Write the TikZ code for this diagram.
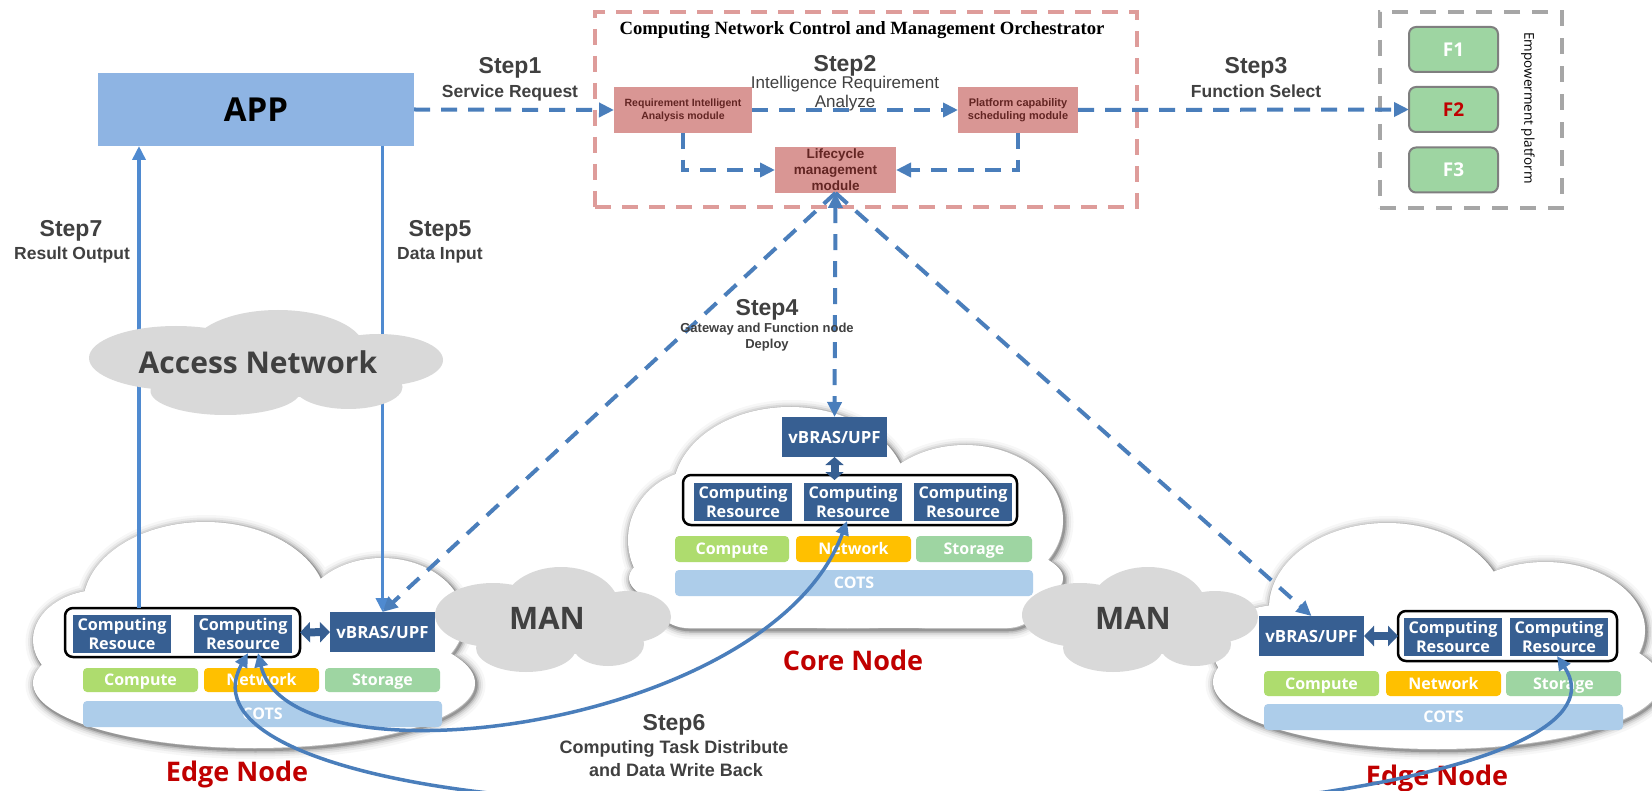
\documentclass[tikz,border=0pt]{standalone}
\usepackage{fontspec}
\setmainfont{Liberation Sans}
\newfontfamily\uifont{Open Sans}
\newfontfamily\titleserif{Liberation Serif}
\usetikzlibrary{arrows.meta,calc}

\newcommand\fsz[2]{\fontsize{#1}{#2}\selectfont}

\definecolor{dblue}{HTML}{375F92}
\definecolor{lineblue}{HTML}{4A7EBB}
\definecolor{solidblue}{HTML}{4F8AD0}
\definecolor{salmon}{HTML}{D99694}
\definecolor{modtext}{HTML}{632523}
\definecolor{orchline}{HTML}{DE9C9A}
\definecolor{empline}{HTML}{A6A6A6}
\definecolor{mint}{HTML}{9ED5A2}
\definecolor{fgray}{HTML}{7F7F7F}
\definecolor{lime}{HTML}{AEDC6E}
\definecolor{amber}{HTML}{FFC000}
\definecolor{cotsblue}{HTML}{ADCDEA}
\definecolor{cloudgray}{HTML}{D9D9D9}
\definecolor{txtgray}{HTML}{404040}
\definecolor{nodered}{HTML}{C00000}
\definecolor{appblue}{HTML}{8EB4E3}

% white cloud with a soft grey shadow; #1 is a union of closed shapes
\newcommand\whitecloud[1]{%
  \foreach \w/\o in {18/0.03,13/0.05,9/0.08,5.5/0.12,2.5/0.2}{%
    \draw[black, opacity=\o, line width=\w pt, shift={(1.5,2)}] #1;}
  \fill[white] #1;}

% flat grey cloud: centre x, centre y, horizontal scale
\newcommand\graycloud[3]{%
  \fill[cloudgray, shift={(#1,#2)}, xscale=#3]
    (-60,-5) ellipse [x radius=58pt, y radius=32pt]
    (8,-13) ellipse [x radius=58pt, y radius=40pt]
    (75,-3) ellipse [x radius=43pt, y radius=26pt]
    (-27,28) ellipse [x radius=50pt, y radius=24pt]
    (55,24) ellipse [x radius=36pt, y radius=22pt]
    (0,5) ellipse [x radius=80pt, y radius=30pt];}

\tikzset{
  dtip/.tip={Triangle[length=15pt,width=14pt]},
  ctip/.tip={Triangle[length=14pt,width=13pt]},
  btip/.tip={Triangle[length=10pt,width=20pt]},
}

\begin{document}
\begin{tikzpicture}[x=1pt,y=-1pt,
  every node/.style={inner sep=0pt, outer sep=0pt},
  modbox/.style={fill=salmon, text=modtext, font=\bfseries, align=center},
  fnbox/.style={draw=fgray, line width=2pt, fill=mint, rounded corners=7pt,
    minimum width=89pt, minimum height=45pt, font=\uifont\bfseries\fsz{19}{22}, text=white},
  resbox/.style={fill=dblue, text=white, font=\uifont\bfseries\fsz{16.2}{18.7},
    align=center, minimum width=98pt, minimum height=38pt},
  upfbox/.style={fill=dblue, text=white, font=\uifont\bfseries\fsz{16.8}{19},
    minimum width=105pt, minimum height=40pt},
  groupbox/.style={draw=black, line width=2.5pt, rounded corners=8pt, fill=white},
  layerbox/.style={rounded corners=4pt, text=white, font=\uifont\bfseries\fsz{16}{19},
    text height=11.5pt, text depth=0pt},
  steph/.style={text=txtgray, font=\bfseries\fsz{23}{27}, text height=16.5pt, text depth=0pt},
  stepsub/.style={text=txtgray, font=\bfseries\fsz{17.5}{21}, text height=12.5pt, text depth=0pt},
  nodelbl/.style={text=nodered, font=\uifont\bfseries\fsz{27}{32}, text height=19pt, text depth=0pt},
  dashline/.style={draw=lineblue, line width=4pt, dash pattern=on 16pt off 11pt},
  solidline/.style={draw=solidblue, line width=3.5pt},
  curveline/.style={draw=lineblue, line width=3.5pt},
  dblarrow/.style={draw=dblue, line width=8pt, {btip}-{btip}},
]
\useasboundingbox (0,0) rectangle (1652,791);
\fill[white] (0,0) rectangle (1652,791);
\clip (0,0) rectangle (1652,791);

% ---------- node clouds ----------
\whitecloud{(254,683) ellipse [x radius=221pt, y radius=65pt]
  (205,605) ellipse [x radius=122pt, y radius=83pt]
  (382,620) ellipse [x radius=82pt, y radius=62pt]
  (100,640) ellipse [x radius=67pt, y radius=50pt]}
\whitecloud{(846,578) ellipse [x radius=217pt, y radius=50pt]
  (790,492) ellipse [x radius=117pt, y radius=85pt]
  (965,520) ellipse [x radius=98pt, y radius=75pt]
  (700,540) ellipse [x radius=72pt, y radius=70pt]
  [rounded corners=38pt] (650,545) rectangle (1045,628)}
\whitecloud{(1437,682) ellipse [x radius=224pt, y radius=67pt]
  (1387,608) ellipse [x radius=118pt, y radius=85pt]
  (1545,630) ellipse [x radius=100pt, y radius=68pt]
  (1280,650) ellipse [x radius=67pt, y radius=45pt]}

% ---------- metro clouds ----------
\graycloud{553}{620}{1}
\graycloud{1140}{620}{1}
\node[text=txtgray, font=\uifont\bfseries\fsz{31}{36}] (manL) at (547,618) {MAN};
\node[text=txtgray, font=\uifont\bfseries\fsz{31}{36}] (manR) at (1133,618) {MAN};

% ---------- left edge node ----------
\node[groupbox, minimum width=235pt, minimum height=49pt] (gL) at (182.5,632.5) {};
\node[resbox] (crL1) at (122,634) {Computing\\Resouce};
\node[resbox] (crL2) at (243,634) {Computing\\Resource};
\node[upfbox] (vL) at (382.5,632) {vBRAS/UPF};
\node[layerbox, fill=lime, minimum width=115pt, minimum height=24pt] (cpL) at (140.5,680) {Compute};
\node[layerbox, fill=amber, minimum width=115pt, minimum height=24pt] (nwL) at (261.5,680) {Network};
\node[layerbox, fill=mint, minimum width=115pt, minimum height=24pt] (stL) at (382.5,680) {Storage};
\node[layerbox, fill=cotsblue, minimum width=359pt, minimum height=26pt] (coL) at (262.5,714) {COTS};
\node[nodelbl] (edgeL) at (237,772) {Edge Node};

% ---------- core node ----------
\node[upfbox] (vC) at (834.5,437) {vBRAS/UPF};
\node[groupbox, minimum width=334pt, minimum height=50pt] (gC) at (850,500) {};
\node[resbox] (crC1) at (743,502) {Computing\\Resource};
\node[resbox] (crC2) at (853,502) {Computing\\Resource};
\node[resbox] (crC3) at (963,502) {Computing\\Resource};
\node[layerbox, fill=lime, minimum width=114pt, minimum height=26pt] (cpC) at (732,549) {Compute};
\node[layerbox, fill=amber, minimum width=115pt, minimum height=26pt] (nwC) at (853.5,549) {Network};
\node[layerbox, fill=mint, minimum width=116pt, minimum height=26pt] (stC) at (974,549) {Storage};
\node[layerbox, fill=cotsblue, minimum width=358pt, minimum height=26pt] (coC) at (854,583) {COTS};
\node[nodelbl] (coreLbl) at (853,661) {Core Node};

% ---------- right edge node ----------
\node[upfbox] (vR) at (1311.5,636) {vBRAS/UPF};
\node[groupbox, minimum width=219pt, minimum height=50pt] (gR) at (1507.5,636) {};
\node[resbox] (crR1) at (1453,637) {Computing\\Resource};
\node[resbox] (crR2) at (1559,637) {Computing\\Resource};
\node[layerbox, fill=lime, minimum width=115pt, minimum height=25pt] (cpR) at (1321.5,683.5) {Compute};
\node[layerbox, fill=amber, minimum width=115pt, minimum height=25pt] (nwR) at (1443.5,683.5) {Network};
\node[layerbox, fill=mint, minimum width=115pt, minimum height=25pt] (stR) at (1563.5,683.5) {Storage};
\node[layerbox, fill=cotsblue, minimum width=359pt, minimum height=26pt] (coR) at (1443.5,717) {COTS};
\node[nodelbl] (edgeR) at (1437,776) {Edge Node};

% ---------- application and orchestrator ----------
\node[fill=appblue, minimum width=316pt, minimum height=73pt,
  font=\uifont\bfseries\fsz{33}{38}] (app) at (256,109.5) {APP};

\node[draw=orchline, line width=3.5pt, dash pattern=on 16pt off 11pt,
  minimum width=542pt, minimum height=195pt] (orch) at (866,109.5) {};
\node[font=\titleserif\bfseries\fsz{18.7}{21}] (title) at (862,30)
  {Computing Network Control and Management Orchestrator};
\node[modbox, font=\bfseries\fsz{10.5}{13.3}, minimum width=138pt, minimum height=46pt]
  (req) at (683,110) {Requirement Intelligent\\Analysis module};
\node[modbox, font=\bfseries\fsz{11}{13.3}, minimum width=120pt, minimum height=46pt]
  (plat) at (1018,110) {Platform capability\\scheduling module};
\node[modbox, font=\bfseries\fsz{13.5}{16}, minimum width=121pt, minimum height=46pt]
  (life) at (835.5,170) {Lifecycle\\management\\module};

% ---------- empowerment platform ----------
\node[draw=empline, line width=4pt, dash pattern=on 16pt off 12pt,
  minimum width=182pt, minimum height=196pt] (emp) at (1471,110) {};
\node[fnbox] (f1) at (1453.5,49.5) {F1};
\node[fnbox, text=nodered] (f2) at (1453.5,109.5) {F2};
\node[fnbox] (f3) at (1453.5,170) {F3};
\node[rotate=-90, font=\uifont\fsz{13.5}{16}] (empLbl) at (1528,108) {Empowerment platform};

% ---------- data path to the application ----------
\coordinate (s7) at ($(gL.north west)+(74,0)$);
\draw[solidline, -{ctip}] (s7) -- (s7 |- app.south);
\draw[solidline, -{ctip}] (app.south -| vL.north) -- (vL.north);

% access network sits over the two lines
\graycloud{266}{363}{1.5}
\node[text=txtgray, font=\uifont\bfseries\fsz{30}{35}] (acc) at (258,362) {Access Network};

% ---------- control flow ----------
\draw[dashline, -{dtip}] (app.east) -- (req.west);
\draw[dashline, -{dtip}] (req.east) -- (plat.west);
\draw[dashline, -{dtip}] (plat.east) -- (f2.west);
\draw[dashline, -{dtip}] (req.south) |- (life.west);
\draw[dashline, -{dtip}] (plat.south) |- (life.east);
\draw[dashline, -{dtip}] (life.south) -- (vL.north);
\draw[dashline, {dtip}-{dtip}] (life.south) -- (vC.north);
\draw[dashline, -{dtip}] (life.south) -- (vR.north);

% ---------- gateway links ----------
\draw[dblarrow] (gL.east) -- (vL.west);
\draw[dblarrow] (vR.east) -- (gR.west);
\draw[draw=dblue, line width=8pt, {Triangle[length=8pt,width=18pt]}-{Triangle[length=8pt,width=18pt]}]
  (vC.south) -- ($(vC.south |- gC.north)+(0,5)$);

% ---------- task distribution and write back ----------
\draw[curveline, {ctip}-{ctip}] ($(crL2.south)+(15,0)$)
  .. controls (290,790) and (770,730) .. ($(crC2.south)+(-6,0)$);
\draw[curveline, {ctip}-{ctip}] ($(crL2.south)+(5,0)$)
  .. controls (205,730) and (330,774) .. (480,792)
  .. controls (800,830) and (1050,830) .. (1325,792)
  .. controls (1500,765) and (1600,720) .. ($(crR2.south)+(-2,0)$);

% ---------- step labels ----------
\node[steph] (s1h) at (510,65) {Step1};
\node[stepsub] (s1t) at (510,91) {Service Request};
\node[steph] (s2h) at (845,63) {Step2};
\node[text=txtgray, font=\fsz{17}{20}, text height=12pt, text depth=0pt] (s2t) at (845,83) {Intelligence Requirement};
\node[text=txtgray, font=\fsz{17}{20}, text height=12pt, text depth=0pt] (s2u) at (845,102) {Analyze};
\node[steph] (s3h) at (1256,65) {Step3};
\node[stepsub] (s3t) at (1256,91) {Function Select};
\node[steph] (s4h) at (767,307) {Step4};
\node[text=txtgray, font=\bfseries\fsz{13}{16}, text height=9.5pt, text depth=0pt] (s4t) at (767,328) {Gateway and Function node};
\node[text=txtgray, font=\bfseries\fsz{13}{16}, text height=9.5pt, text depth=0pt] (s4u) at (767,344) {Deploy};
\node[steph] (s5h) at (440,228) {Step5};
\node[stepsub] (s5t) at (440,253) {Data Input};
\node[steph] (s6h) at (674,722) {Step6};
\node[stepsub, font=\bfseries\fsz{18}{21}] (s6t) at (674,747) {Computing Task Distribute};
\node[stepsub, font=\bfseries\fsz{18}{21}] (s6u) at (676,770) {and Data Write Back};
\node[steph] (s7h) at (71,228) {Step7};
\node[stepsub] (s7t) at (72,253) {Result Output};
\end{tikzpicture}
\end{document}
